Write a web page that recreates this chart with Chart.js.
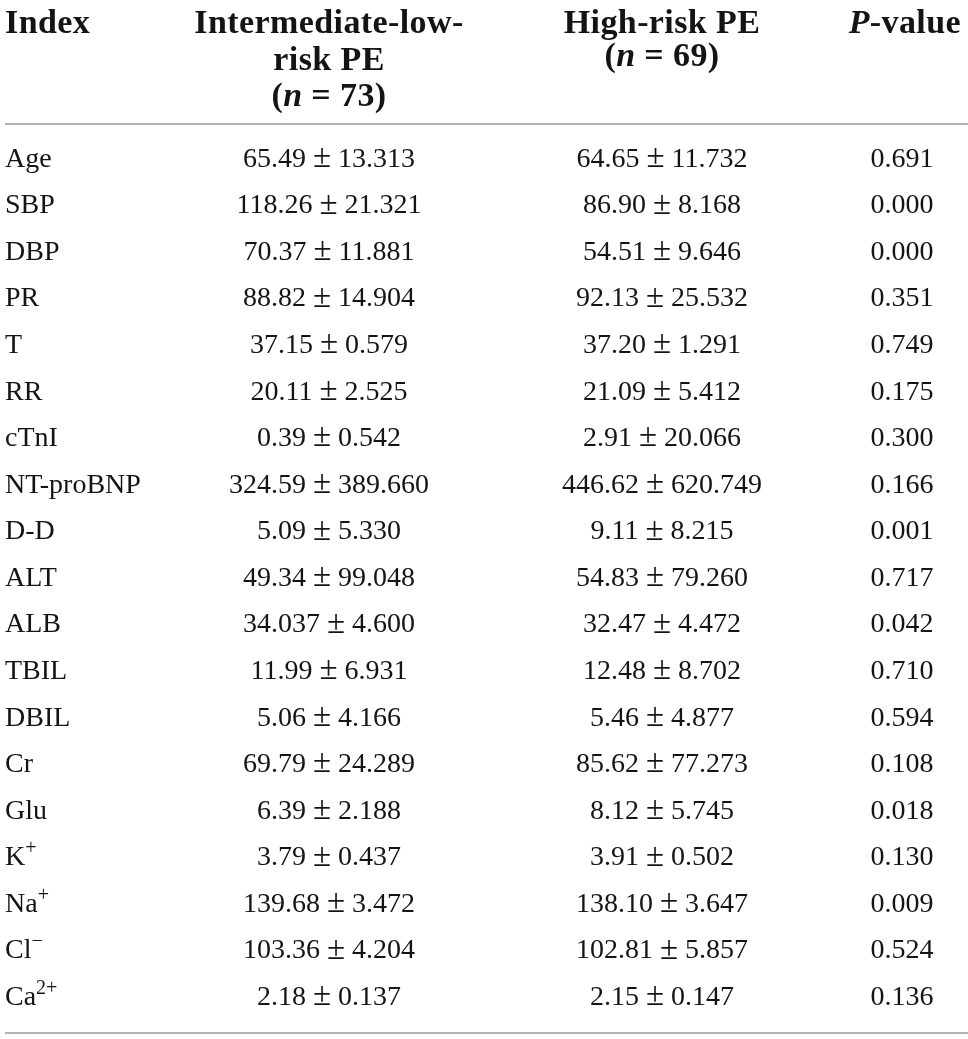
<!DOCTYPE html>
<html>
<head>
<meta charset="utf-8">
<script src="https://cdn.jsdelivr.net/npm/chart.js@4"></script>
<style>
  html, body { margin: 0; padding: 0; background: #fff; }
  #wrap { width: 968px; height: 1039px; }
</style>
</head>
<body>
<div id="wrap"><canvas id="myChart" width="968" height="1039"></canvas></div>
<script>
'use strict';

// table data
var indexLabels = ['Age', 'SBP', 'DBP', 'PR', 'T', 'RR', 'cTnI', 'NT-proBNP', 'D-D', 'ALT', 'ALB',
    'TBIL', 'DBIL', 'Cr', 'Glu', 'K', 'Na', 'Cl', 'Ca'];
var indexSup = ['', '', '', '', '', '', '', '', '', '', '', '', '', '', '', '+', '+', '\u2212', '2+'];
var lowMean = ['65.49', '118.26', '70.37', '88.82', '37.15', '20.11', '0.39', '324.59', '5.09', '49.34',
    '34.037', '11.99', '5.06', '69.79', '6.39', '3.79', '139.68', '103.36', '2.18'];
var lowSD = ['13.313', '21.321', '11.881', '14.904', '0.579', '2.525', '0.542', '389.660', '5.330', '99.048',
    '4.600', '6.931', '4.166', '24.289', '2.188', '0.437', '3.472', '4.204', '0.137'];
var highMean = ['64.65', '86.90', '54.51', '92.13', '37.20', '21.09', '2.91', '446.62', '9.11', '54.83',
    '32.47', '12.48', '5.46', '85.62', '8.12', '3.91', '138.10', '102.81', '2.15'];
var highSD = ['11.732', '8.168', '9.646', '25.532', '1.291', '5.412', '20.066', '620.749', '8.215', '79.260',
    '4.472', '8.702', '4.877', '77.273', '5.745', '0.502', '3.647', '5.857', '0.147'];
var pValues = ['0.691', '0.000', '0.000', '0.351', '0.749', '0.175', '0.300', '0.166', '0.001', '0.717',
    '0.042', '0.710', '0.594', '0.108', '0.018', '0.130', '0.009', '0.524', '0.136'];

// column anchors (x scale units = px)
var COL_INDEX = 5, COL_LOW = 329, COL_HIGH = 662, COL_P = 902;
var SERIF = '"Liberation Serif", "DejaVu Serif", serif';
var INK = '#151313';

function column(x) {
    return indexLabels.map(function (lab) { return { x: x, y: lab }; });
}

function drawRuns(ctx, runs, x, y, align, spacing) {
    ctx.letterSpacing = (spacing || 0) + 'px';
    var total = 0;
    runs.forEach(function (r) { ctx.font = r.font; total += ctx.measureText(r.text).width; });
    var cx = align === 'center' ? x - total / 2 : (align === 'right' ? x - total : x);
    runs.forEach(function (r) {
        ctx.font = r.font;
        ctx.fillText(r.text, cx, y - (r.rise || 0));
        cx += ctx.measureText(r.text).width;
    });
    ctx.letterSpacing = '0px';
}

var body = '28px ' + SERIF;
var pm = '33px ' + SERIF;
var sup = '20px ' + SERIF;
var bold = 'bold 34px ' + SERIF;
var boldIt = 'italic bold 34px ' + SERIF;
var HS = 0.4; // header letter spacing

function meanSd(m, s) {
    return [{ text: m + ' ', font: body }, { text: '\u00b1', font: pm, rise: 1 }, { text: ' ' + s, font: body }];
}

var tablePlugin = {
    id: 'tableText',
    afterDatasetsDraw: function (chart) {
        var ctx = chart.ctx;
        var area = chart.chartArea;
        ctx.save();
        ctx.fillStyle = INK;
        ctx.textBaseline = 'alphabetic';

        // header
        drawRuns(ctx, [{ text: 'Index', font: bold }], COL_INDEX, 33, 'left', HS);
        drawRuns(ctx, [{ text: 'Intermediate-low-', font: bold }], COL_LOW, 33, 'center', HS);
        drawRuns(ctx, [{ text: 'risk PE', font: bold }], COL_LOW, 70, 'center', HS);
        drawRuns(ctx, [{ text: '(', font: bold }, { text: 'n', font: boldIt }, { text: ' = 73)', font: bold }], COL_LOW, 106, 'center', HS);
        drawRuns(ctx, [{ text: 'High-risk PE', font: bold }], COL_HIGH, 33, 'center', HS);
        drawRuns(ctx, [{ text: '(', font: bold }, { text: 'n', font: boldIt }, { text: ' = 69)', font: bold }], COL_HIGH, 66, 'center', HS);
        drawRuns(ctx, [{ text: 'P', font: boldIt }, { text: '-value', font: bold }], 961, 33, 'right', HS);

        // rules
        ctx.strokeStyle = '#9b9b9b';
        ctx.lineWidth = 1.5;
        ctx.beginPath();
        ctx.moveTo(5, area.top - 12); ctx.lineTo(968, area.top - 12);
        ctx.moveTo(5, area.bottom + 12); ctx.lineTo(968, area.bottom + 12);
        ctx.stroke();

        // body cells, placed at each point the scales computed
        ctx.textBaseline = 'middle';
        chart.data.datasets.forEach(function (ds, di) {
            var meta = chart.getDatasetMeta(di);
            meta.data.forEach(function (pt, i) {
                var runs;
                if (ds.label === 'Index') {
                    runs = [{ text: indexLabels[i], font: body }];
                    if (indexSup[i]) runs.push({ text: indexSup[i], font: sup, rise: 9 });
                    drawRuns(ctx, runs, pt.x, pt.y, 'left');
                } else if (ds.label === 'Low') {
                    drawRuns(ctx, meanSd(lowMean[i], lowSD[i]), pt.x, pt.y, 'center');
                } else if (ds.label === 'High') {
                    drawRuns(ctx, meanSd(highMean[i], highSD[i]), pt.x, pt.y, 'center');
                } else {
                    drawRuns(ctx, [{ text: pValues[i], font: body }], pt.x, pt.y, 'center');
                }
            });
        });
        ctx.restore();
    }
};

var ctx = document.getElementById('myChart').getContext('2d');
var chart = new Chart(ctx, {
    type: 'scatter',
    data: {
        labels: indexLabels,
        datasets: [
            { label: 'Index', data: column(COL_INDEX) },
            { label: 'Low', data: column(COL_LOW) },
            { label: 'High', data: column(COL_HIGH) },
            { label: 'P', data: column(COL_P) }
        ]
    },
    options: {
        responsive: false,
        animation: false,
        events: [],
        elements: { point: { radius: 0, hoverRadius: 0 } },
        layout: { padding: { top: 136, bottom: 18, left: 0, right: 0 } },
        plugins: { legend: { display: false }, tooltip: { enabled: false } },
        scales: {
            x: { type: 'linear', min: 0, max: 968, display: false },
            y: { type: 'category', labels: indexLabels, offset: true, display: false }
        }
    },
    plugins: [tablePlugin]
});
</script>
</body>
</html>
